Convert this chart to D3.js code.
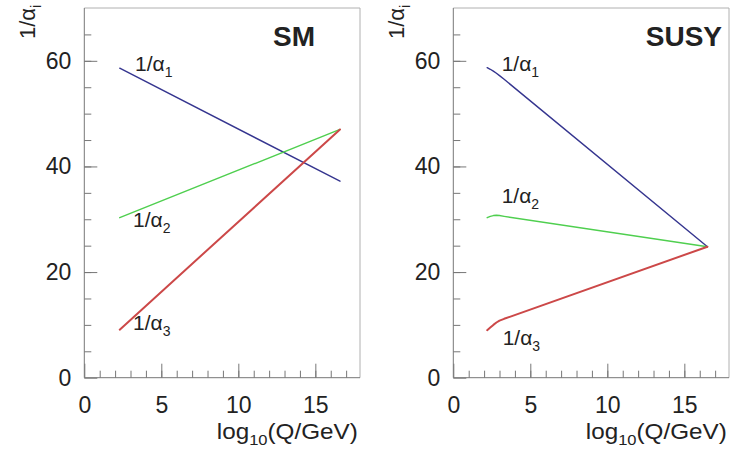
<!DOCTYPE html>
<html>
<head>
<meta charset="utf-8">
<script src="https://cdn.jsdelivr.net/npm/d3@7"></script>
<style>
  body { margin: 0; background: #fff; }
  text { font-family: "Liberation Sans", Arial, Helvetica, sans-serif; fill: #222; }
</style>
</head>
<body>
<svg id="chart" width="739" height="450"></svg>
<script>
// Running couplings (x = log10(Q/GeV), y = 1/alpha_i)
const smLogQ = [2.3, 16.6];
const smInvAlpha1 = [58.6, 37.2];
const smInvAlpha2 = [30.3, 47.0];
const smInvAlpha3 = [9.1, 47.0];

// SUSY: SM running up to ~1 TeV, then a bend to the SUSY slope
const susyLogQ = [2.2, 2.4, 2.6, 2.8, 3.0, 3.3, 16.5];
const susyInvAlpha1 = [58.7, 58.4, 58.05, 57.65, 57.2, 56.5, 24.8];
const susyInvAlpha2 = [30.3, 30.55, 30.7, 30.75, 30.7, 30.55, 24.8];
const susyInvAlpha3 = [9.0, 9.5, 10.0, 10.45, 10.8, 11.15, 24.8];

const xMajorTicks = [0, 5, 10, 15];
const yMajorTicks = [0, 20, 40, 60];

const lineColors = ['#35358f', '#4fcf4f', '#cc4848'];
const lineWidths = [1.4, 1.4, 2];

const svg = d3.select('#chart');
svg.append('rect').attr('width', 739).attr('height', 450).attr('fill', '#fff');

// one panel per model, label positions are relative to the panel
const panels = [
    { name: 'SM', left: 84.3, logQ: smLogQ, series: [smInvAlpha1, smInvAlpha2, smInvAlpha3],
      titleX: 230.7, labels: [[50.7, 71], [48.7, 227], [48.7, 330]] },
    { name: 'SUSY', left: 453.3, logQ: susyLogQ, series: [susyInvAlpha1, susyInvAlpha2, susyInvAlpha3],
      titleX: 268.7, labels: [[48.4, 71], [48.4, 203], [49.4, 345]] }
];

const plotW = 275.7, plotTop = 8, plotBottom = 377.7;

panels.forEach(p => {
    const g = svg.append('g').attr('transform', `translate(${p.left},0)`);
    const x = d3.scaleLinear().domain([0, 17.9]).range([0, plotW]);
    const y = d3.scaleLinear().domain([0, 70]).range([plotBottom, plotTop]);

    // frame: light top/right, darker left/bottom
    g.append('path').attr('d', `M0,${plotTop}H${plotW}V${plotBottom}`)
        .attr('fill', 'none').attr('stroke', '#b0b0b0').attr('stroke-width', 1);

    // minor + major ticks, pointing inwards
    const xMinor = g.append('g').attr('transform', `translate(0,${plotBottom})`)
        .call(d3.axisBottom(x).tickValues(d3.range(1, 18)).tickSize(-7).tickFormat(''));
    const xMajor = g.append('g').attr('transform', `translate(0,${plotBottom})`)
        .call(d3.axisBottom(x).tickValues(xMajorTicks).tickSize(-14).tickPadding(19));
    const yMinor = g.append('g')
        .call(d3.axisLeft(y).tickValues(d3.range(5, 70, 5)).tickSize(-7).tickFormat(''));
    const yMajor = g.append('g')
        .call(d3.axisLeft(y).tickValues(yMajorTicks).tickSize(-13).tickPadding(13));

    [xMinor, xMajor, yMinor, yMajor].forEach(a => {
        a.select('.domain').attr('stroke', '#777');
        a.selectAll('.tick line').attr('stroke', '#777');
        a.selectAll('text').attr('font-size', 23).attr('fill', '#222')
            .attr('font-family', '"Liberation Sans", Arial, sans-serif');
    });
    xMajor.select('.domain').attr('d', `M0,0H${plotW}`);
    yMajor.select('.domain').attr('d', `M0,${plotTop}V${plotBottom}`);
    xMinor.select('.domain').remove();
    yMinor.select('.domain').remove();

    // coupling curves
    const line = d3.line().x((d, i) => x(p.logQ[i])).y(d => y(d));
    p.series.forEach((s, i) => {
        g.append('path').datum(s).attr('d', line)
            .attr('fill', 'none').attr('stroke', lineColors[i]).attr('stroke-width', lineWidths[i])
            .attr('stroke-linejoin', 'round').attr('stroke-linecap', 'round');
    });

    // curve labels 1/alpha_i
    p.labels.forEach((pos, i) => {
        const t = g.append('text').attr('x', pos[0]).attr('y', pos[1]).attr('font-size', 21);
        t.append('tspan').text('1/\u03b1');
        t.append('tspan').attr('font-size', 14).attr('dy', 6).text(i + 1);
    });

    // model name
    g.append('text').attr('x', p.titleX).attr('y', 46).attr('text-anchor', 'end')
        .attr('font-size', 28).attr('font-weight', 'bold').text(p.name);

    // axis titles
    const yt = g.append('text').attr('transform', 'translate(-49,39) rotate(-90)').attr('font-size', 22);
    yt.append('tspan').text('1/\u03b1');
    yt.append('tspan').attr('font-size', 15).attr('dy', 6).text('i');

    const xt = g.append('text').attr('x', 273.5).attr('y', 439).attr('text-anchor', 'end')
        .attr('font-size', 22).attr('textLength', 141).attr('lengthAdjust', 'spacingAndGlyphs');
    xt.append('tspan').text('log');
    xt.append('tspan').attr('font-size', 15).attr('dy', 6).text('10');
    xt.append('tspan').attr('dy', -6).text('(Q/GeV)');
});
</script>
</body>
</html>
